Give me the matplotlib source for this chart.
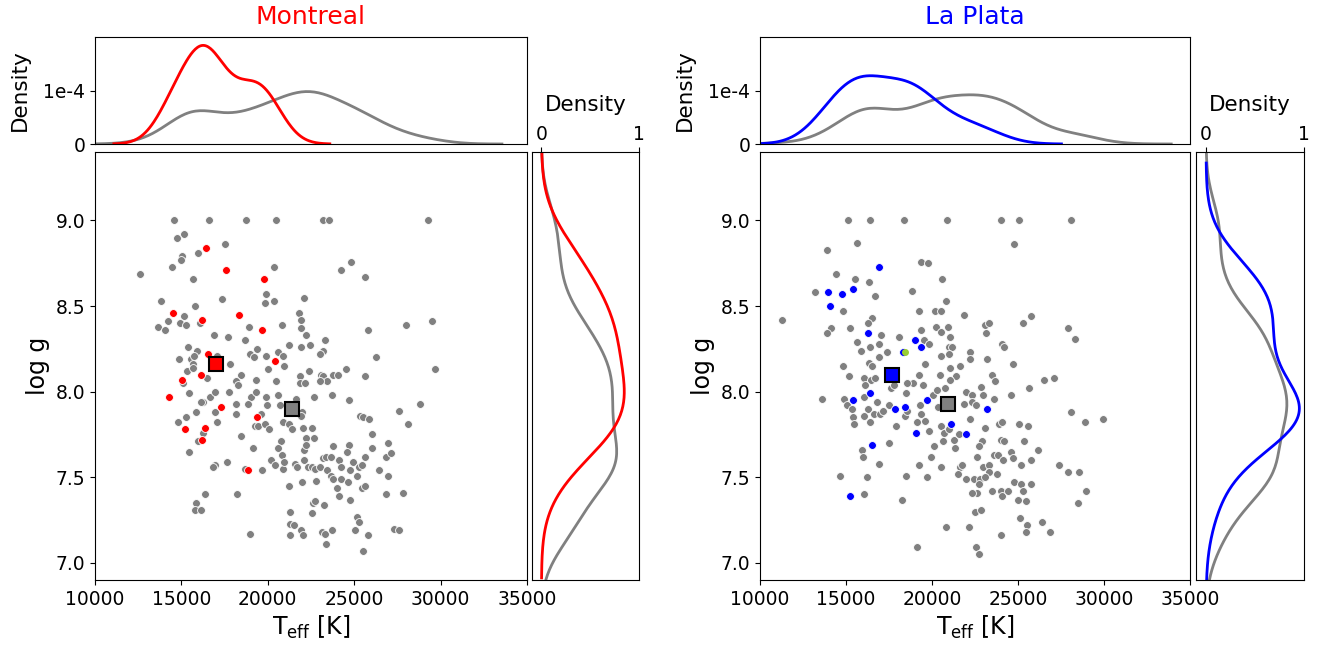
import numpy as np
import matplotlib
matplotlib.use("Agg")
import matplotlib.pyplot as plt
import seaborn as sns


# --------------------------------------------------
# Daten: Montreal (links)
# --------------------------------------------------
mtl_bg_teff = [
    14590, 16600, 18720, 20480, 15170, 14730, 17540, 15050, 14960, 15980,
    14440, 20340, 12600, 15670, 19880, 19840, 20340, 13840, 17370, 15790,
    15130, 14210, 13650, 14070, 14920, 15270, 16080, 18890, 20840, 16890,
    17700, 18660, 15360, 15920, 19400, 18990, 19200, 19900, 20610, 20900,
    21230, 14860, 15580, 15730, 15650, 15310, 15690, 17040, 17830, 20010,
    20920, 18470, 18160, 19320, 16480, 20460, 15110,
    23200, 23520, 29250, 24800, 24220, 25610, 22110, 21790, 21920, 21920,
    22230, 23290, 25820, 28000, 29520, 21920, 22420, 23210, 23020, 26280,
    29660, 22390, 21880, 23060, 23210, 23430, 23750, 24080, 24550, 25610,
    21860, 22170,
    18300, 15460, 16660, 16930, 16230, 16120, 17760, 19030, 19320, 19920,
    20590, 18160, 18840, 19940, 20730, 16960, 18160, 19610, 15830, 15250,
    14780, 17080, 19280, 19450, 19820, 20050, 20900, 21230, 21380, 16230,
    15980, 18470, 20780, 20590, 20820, 19140, 15460, 17660, 16930, 16810,
    20190, 20420, 20860, 20960, 18680, 19650, 21230, 16350, 18220, 15830,
    15810, 16150, 21290, 21270, 18990, 21290,
    23020, 22670, 23700, 24700, 21630, 21960, 21900, 27570, 28830, 25340,
    25490, 25860, 28110, 22060, 22580, 26010, 22210, 22670, 22110, 22190,
    23790, 24720, 24560, 26030, 26980, 25650, 26840, 27150, 23210, 23370,
    23640, 24120, 24950, 25280, 25450, 21560, 21710, 22110, 22350, 22540,
    22730, 23020, 23450, 24220, 24780, 26420, 25140, 26980, 23640, 23750,
    24220, 24660, 21960, 22770, 23990, 25450, 25650, 26840, 27820, 24100,
    24760, 22640, 22730, 23250, 22580, 25160, 25300, 21540, 21940, 22020,
    23160, 23310, 23700, 25070, 25800, 27320, 27590, 23350, 25490,
]
mtl_bg_logg = [
    9.00, 9.00, 9.00, 9.00, 8.92, 8.90, 8.86, 8.79, 8.77, 8.81,
    8.73, 8.73, 8.69, 8.66, 8.57, 8.52, 8.53, 8.53, 8.54, 8.50,
    8.44, 8.41, 8.38, 8.36, 8.40, 8.39, 8.40, 8.38, 8.39, 8.33,
    8.32, 8.30, 8.26, 8.24, 8.25, 8.22, 8.20, 8.21, 8.23, 8.21,
    8.27, 8.19, 8.19, 8.21, 8.16, 8.12, 8.14, 8.21, 8.16, 8.13,
    8.15, 8.10, 8.06, 8.07, 8.08, 8.06, 8.05,
    9.00, 9.00, 9.00, 8.76, 8.71, 8.67, 8.55, 8.46, 8.42, 8.37,
    8.33, 8.30, 8.36, 8.39, 8.41, 8.26, 8.27, 8.24, 8.22, 8.20,
    8.13, 8.12, 8.09, 8.10, 8.09, 8.06, 8.10, 8.10, 8.13, 8.09,
    8.05, 8.05,
    8.04, 7.99, 7.97, 8.00, 7.94, 7.94, 8.00, 7.97, 8.00, 7.97,
    7.98, 7.93, 7.93, 7.92, 7.92, 7.88, 7.87, 7.87, 7.88, 7.85,
    7.82, 7.82, 7.80, 7.80, 7.81, 7.78, 7.82, 7.81, 7.78, 7.76,
    7.71, 7.74, 7.71, 7.67, 7.63, 7.67, 7.65, 7.59, 7.57, 7.56,
    7.60, 7.57, 7.55, 7.59, 7.55, 7.54, 7.45, 7.40, 7.40, 7.35,
    7.31, 7.31, 7.30, 7.23, 7.17, 7.16,
    8.06, 7.97, 7.98, 7.95, 7.96, 7.88, 7.86, 7.89, 7.93, 7.86,
    7.85, 7.84, 7.81, 7.79, 7.79, 7.75, 7.73, 7.73, 7.66, 7.69,
    7.68, 7.69, 7.65, 7.67, 7.70, 7.62, 7.62, 7.64, 7.61, 7.62,
    7.62, 7.60, 7.59, 7.56, 7.57, 7.58, 7.56, 7.60, 7.56, 7.56,
    7.55, 7.56, 7.54, 7.56, 7.54, 7.54, 7.51, 7.51, 7.51, 7.49,
    7.49, 7.47, 7.47, 7.48, 7.44, 7.44, 7.45, 7.40, 7.41, 7.39,
    7.37, 7.35, 7.36, 7.34, 7.29, 7.27, 7.24, 7.22, 7.19, 7.16,
    7.18, 7.17, 7.19, 7.19, 7.16, 7.20, 7.19, 7.11, 7.07,
]
mtl_teff = [16400, 17580, 19780, 14500, 16210, 18350, 19670, 16560, 20400,
            16150, 15050, 14280, 17270, 19380, 16350, 15230, 16210, 18850]
mtl_logg = [8.84, 8.71, 8.66, 8.46, 8.42, 8.45, 8.36, 8.22, 8.18,
            8.10, 8.07, 7.97, 7.91, 7.85, 7.79, 7.78, 7.72, 7.54]
mtl_mean = (17000, 8.16)
mtl_bg_mean = (21400, 7.90)

# --------------------------------------------------
# Daten: La Plata (rechts)
# --------------------------------------------------
lp_bg_teff = [
    15100, 16420, 18350, 15640, 13880, 19380, 19750, 14440, 15520, 16360,
    13220, 18840, 16690, 14850, 19260, 11260, 16490, 16280, 14130, 13920,
    15210, 19380, 18100, 17020, 15640, 16420, 16940, 15890, 19520, 19830,
    17380, 16940, 16320, 16530, 19610, 19230, 14830, 15180, 16070, 16450,
    16710, 18880, 18530,
    20850, 23990, 25060, 28080, 24770, 20580, 20800, 20180, 20500, 21840,
    20230, 20500, 20950, 21050, 23080, 23320, 23120, 25270, 25780, 27930,
    28300, 20990, 21180, 20520, 20990, 22230, 22230, 24050, 24210, 23220,
    24730, 21650, 21070, 20450, 21420, 21050, 23510, 23680, 26510, 27070,
    16110, 17620, 17790, 19480, 13610, 14880, 15040, 15370, 16070, 16260,
    16800, 16630, 16980, 17170, 17480, 15410, 15470, 16070, 16380, 18510,
    18410, 18550, 19320, 19340, 19610, 20040, 20270, 20370, 19110, 17890,
    19850, 17520, 15910, 15990, 16920, 20120, 19960, 19260, 14670, 16220,
    18470, 19730, 16070, 18260, 19130,
    20760, 22830, 25660, 22000, 22310, 22990, 23590, 24590, 21880, 22350,
    22560, 28100, 28920, 29960, 22210, 20500, 20720, 21010, 21260, 21550,
    20640, 23080, 23880, 24050, 25080, 25600, 22910, 22750, 23990, 24210,
    25370, 26180, 21320, 24610, 22600, 23630, 23820, 24110, 24710, 25760,
    25160, 20500, 21630, 21730, 22950, 23320, 23330, 23800, 27400, 27930,
    28570, 21490, 21980, 22460, 22770, 23080, 22710, 22640, 22330, 24770,
    25160, 25760, 23470, 23990, 24050, 24440, 25020, 25270, 25450, 28940,
    28510, 22500, 22850, 25120, 25510, 25490, 26420, 26860, 20820, 22150,
    23990, 22560, 22750,
]
lp_bg_logg = [
    9.00, 9.00, 9.00, 8.87, 8.83, 8.76, 8.75, 8.69, 8.66, 8.64,
    8.58, 8.59, 8.56, 8.47, 8.47, 8.42, 8.43, 8.40, 8.37, 8.34,
    8.37, 8.36, 8.32, 8.33, 8.29, 8.26, 8.28, 8.24, 8.30, 8.28,
    8.23, 8.20, 8.17, 8.15, 8.16, 8.10, 8.15, 8.09, 8.08, 8.07,
    8.08, 8.05, 8.05,
    9.00, 9.00, 9.00, 9.00, 8.86, 8.66, 8.53, 8.47, 8.47, 8.45,
    8.38, 8.35, 8.38, 8.32, 8.39, 8.40, 8.34, 8.40, 8.44, 8.37,
    8.31, 8.26, 8.26, 8.21, 8.22, 8.23, 8.19, 8.28, 8.26, 8.19,
    8.16, 8.15, 8.14, 8.10, 8.09, 8.07, 8.10, 8.06, 8.07, 8.08,
    8.04, 8.02, 8.04, 8.04, 7.96, 7.96, 7.92, 7.90, 7.97, 7.90,
    7.94, 7.87, 7.87, 7.89, 7.92, 7.85, 7.81, 7.86, 7.82, 7.99,
    7.86, 7.89, 7.92, 7.87, 7.83, 7.98, 8.01, 7.91, 7.82, 7.80,
    7.77, 7.70, 7.66, 7.62, 7.58, 7.68, 7.62, 7.57, 7.51, 7.50,
    7.51, 7.50, 7.40, 7.37, 7.09,
    8.02, 8.03, 8.02, 8.00, 7.98, 7.98, 7.96, 7.98, 7.93, 7.94,
    7.92, 7.88, 7.82, 7.84, 7.84, 7.80, 7.76, 7.78, 7.72, 7.75,
    7.71, 7.79, 7.81, 7.82, 7.81, 7.80, 7.71, 7.68, 7.72, 7.71,
    7.71, 7.66, 7.67, 7.65, 7.62, 7.63, 7.63, 7.60, 7.61, 7.60,
    7.57, 7.56, 7.56, 7.57, 7.56, 7.57, 7.53, 7.52, 7.57, 7.53,
    7.53, 7.52, 7.49, 7.49, 7.49, 7.50, 7.46, 7.41, 7.41, 7.47,
    7.46, 7.46, 7.42, 7.42, 7.39, 7.42, 7.37, 7.42, 7.36, 7.42,
    7.35, 7.30, 7.31, 7.26, 7.22, 7.18, 7.24, 7.18, 7.21, 7.21,
    7.16, 7.09, 7.05,
]
lp_teff = [16940, 13930, 14790, 15430, 14070, 16260, 19030, 19340, 18330, 16420,
           15390, 17870, 18410, 19710, 19090, 16530, 15250, 23220, 21090, 22000]
lp_logg = [8.73, 8.58, 8.57, 8.60, 8.50, 8.34, 8.30, 8.26, 8.23, 7.99,
           7.95, 7.90, 7.91, 7.95, 7.76, 7.69, 7.39, 7.90, 7.81, 7.75]
lp_special = (18410, 8.23)
lp_mean = (17655, 8.10)
lp_bg_mean = (20950, 7.93)


# --------------------------------------------------
# Plot
# --------------------------------------------------
W, H = 1319, 650
fig = plt.figure(figsize=(W / 100, H / 100), dpi=100)


def px(l, b, r, t):
    # Pixel-Box -> Figure-Koordinaten
    return [l / W, 1 - b / H, (r - l) / W, (b - t) / H]


def panel(x0, x1, rx0, rx1, title, col, bg_t, bg_g, t, g, mean, bg_mean, special=None):
    ax_top = fig.add_axes(px(x0, 144, x1, 37))
    ax = fig.add_axes(px(x0, 580, x1, 152))
    ax_r = fig.add_axes(px(rx0, 580, rx1, 152))

    ax.scatter(bg_t, bg_g, s=32, color="gray", edgecolor="white", linewidth=0.6, zorder=2)
    ax.scatter(t, g, s=32, color=col, edgecolor="white", linewidth=0.6, zorder=3)
    if special is not None:
        ax.scatter([special[0]], [special[1]], s=16, color="yellowgreen", zorder=4)
    ax.plot([bg_mean[0]], [bg_mean[1]], "s", ms=10, mfc="gray", mec="black", mew=1.5, zorder=5)
    ax.plot([mean[0]], [mean[1]], "s", ms=10, mfc=col, mec="black", mew=1.5, zorder=5)

    ax.set_xlim(10000, 35000)
    ax.set_ylim(6.9, 9.4)
    ax.set_xticks(np.arange(10000, 35001, 5000))
    ax.set_yticks(np.arange(7.0, 9.01, 0.5))
    ax.yaxis.set_major_formatter(matplotlib.ticker.FormatStrFormatter("%.1f"))
    ax.tick_params(labelsize=13.5)
    ax.set_xlabel(r"T$_{\rm eff}$ [K]", fontsize=17)
    ax.set_ylabel("log g", fontsize=17)

    # Teff-Dichte oben
    sns.kdeplot(x=bg_t, ax=ax_top, color="gray", linewidth=2)
    sns.kdeplot(x=t, ax=ax_top, color=col, linewidth=2)
    ax_top.set_xlim(10000, 35000)
    ax_top.set_ylim(0, 2e-4)
    ax_top.set_xticks([])
    ax_top.set_yticks([0, 1e-4])
    ax_top.set_yticklabels(["0", "1e-4"])
    ax_top.tick_params(labelsize=13.5)
    ax_top.set_xlabel("")
    ax_top.set_ylabel("Density", fontsize=15.5, labelpad=10)
    ax_top.set_title(title, color=col, fontsize=18, pad=9)

    # logg-Dichte rechts
    sns.kdeplot(y=bg_g, ax=ax_r, color="gray", linewidth=2)
    sns.kdeplot(y=g, ax=ax_r, color=col, linewidth=2)
    ax_r.set_ylim(6.9, 9.4)
    ax_r.set_xlim(-0.1, 1.0)
    ax_r.set_yticks([])
    ax_r.set_ylabel("")
    ax_r.xaxis.tick_top()
    ax_r.xaxis.set_label_position("top")
    ax_r.set_xticks([0, 1])
    ax_r.set_xticklabels(["0", "1"])
    ax_r.tick_params(labelsize=13.5, pad=2)
    ax_r.set_xlabel("Density", fontsize=15.5, labelpad=10)


panel(95, 527, 531.7, 639, "Montreal", "red",
      mtl_bg_teff, mtl_bg_logg, mtl_teff, mtl_logg, mtl_mean, mtl_bg_mean)
panel(760, 1190, 1196.3, 1304, "La Plata", "blue",
      lp_bg_teff, lp_bg_logg, lp_teff, lp_logg, lp_mean, lp_bg_mean, special=lp_special)

fig.savefig("out.png", dpi=100)
